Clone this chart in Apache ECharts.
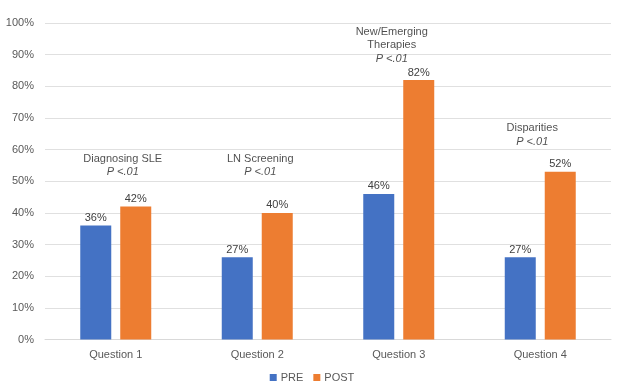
<!DOCTYPE html>
<html>
<head>
<meta charset="utf-8">
<script src="https://cdn.jsdelivr.net/npm/echarts@6/dist/echarts.min.js"></script>
<style>html,body{margin:0;padding:0;background:#fff;}#chart{width:624px;height:386px;}</style>
</head>
<body>
<div id="chart"></div>
<script>
var categories = ['Question 1', 'Question 2', 'Question 3', 'Question 4'];
var preValues = [36, 26, 46, 26];
var postValues = [42, 40, 82, 53];
var preLabels = ['36%', '27%', '46%', '27%'];
var postLabels = ['42%', '40%', '82%', '52%'];
var annotTitles = [['Diagnosing SLE'], ['LN Screening'], ['New/Emerging', 'Therapies'], ['Disparities']];
var annotP = ['P <.01', 'P <.01', 'P <.01', 'P <.01'];
var annotAnchor = [55, 55, 93, 64.6];
var annotShiftX = [7, 3, -7, -8];

var FONT = 'Liberation Sans';
var chart = echarts.init(document.getElementById('chart'));
var option = {
  animation: false,
  backgroundColor: '#fff',
  textStyle: { fontFamily: FONT },
  grid: { left: 45, right: 13, top: 23, bottom: 46.5, containLabel: false },
  legend: {
    data: ['PRE', 'POST'],
    top: 367,
    left: 'center',
    itemWidth: 7,
    itemHeight: 7,
    itemGap: 10,
    icon: 'rect',
    textStyle: { fontFamily: FONT, fontSize: 11, color: '#595959', padding: [0, 0, 0, -1] }
  },
  xAxis: {
    type: 'category',
    data: categories,
    axisLine: { lineStyle: { color: '#d9d9d9' } },
    axisTick: { show: false },
    axisLabel: { fontFamily: FONT, fontSize: 11, color: '#595959', margin: 10 }
  },
  yAxis: {
    type: 'value',
    min: 0, max: 100, interval: 10,
    axisLine: { show: false },
    axisTick: { show: false },
    splitLine: { lineStyle: { color: '#e0e0e0' } },
    axisLabel: { fontFamily: FONT, fontSize: 11, color: '#595959', margin: 11, formatter: '{value}%' }
  },
  series: [
    {
      name: 'PRE', type: 'bar', data: preValues, barWidth: 31, barGap: '29%',
      itemStyle: { color: '#4472C4' },
      label: { show: true, position: 'top', distance: 2, fontFamily: FONT, fontSize: 11, color: '#404040',
        formatter: function (p) { return preLabels[p.dataIndex]; } }
    },
    {
      name: 'POST', type: 'bar', data: postValues, barWidth: 31, barGap: '29%',
      itemStyle: { color: '#ED7D31' },
      label: { show: true, position: 'top', distance: 2, fontFamily: FONT, fontSize: 11, color: '#404040',
        formatter: function (p) { return postLabels[p.dataIndex]; } }
    },
    {
      name: 'annot', type: 'scatter', symbolSize: 0, silent: true,
      data: categories.map(function (c, i) {
        return {
          value: [i, annotAnchor[i]],
          label: { offset: [annotShiftX[i], 0] }
        };
      }),
      label: {
        show: true, position: 'inside', align: 'center', verticalAlign: 'middle',
        formatter: function (p) {
          var i = p.dataIndex;
          return annotTitles[i].map(function (t) { return '{t|' + t + '}'; }).join('\n') + '\n{p|' + annotP[i] + '}';
        },
        rich: {
          t: { fontFamily: FONT, fontSize: 11, color: '#1f1f1f', lineHeight: 13.5, align: 'center' },
          p: { fontFamily: FONT, fontSize: 11, color: '#1f1f1f', fontStyle: 'italic', lineHeight: 13.5, align: 'center' }
        }
      }
    }
  ]
};
chart.setOption(option);
</script>
</body>
</html>
